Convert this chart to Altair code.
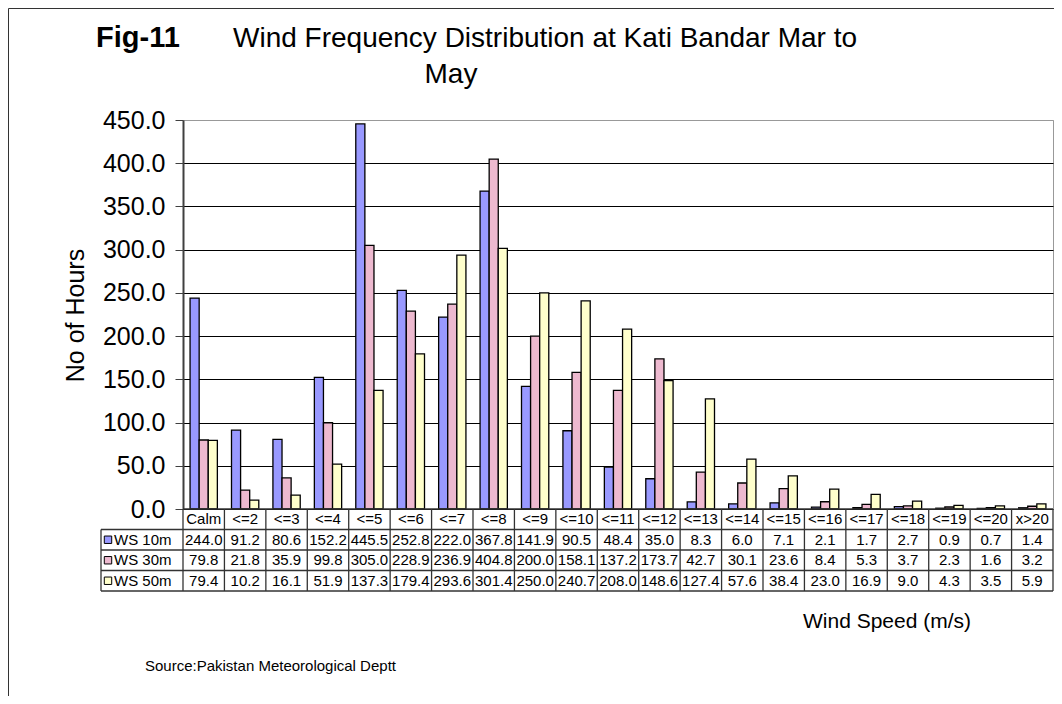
import altair as alt
import pandas as pd

categories = ["Calm", "<=2", "<=3", "<=4", "<=5", "<=6", "<=7", "<=8", "<=9", "<=10",
              "<=11", "<=12", "<=13", "<=14", "<=15", "<=16", "<=17", "<=18", "<=19",
              "<=20", "x>20"]
series_names = ["WS 10m", "WS 30m", "WS 50m"]
ws10 = [244.0, 91.2, 80.6, 152.2, 445.5, 252.8, 222.0, 367.8, 141.9, 90.5, 48.4,
        35.0, 8.3, 6.0, 7.1, 2.1, 1.7, 2.7, 0.9, 0.7, 1.4]
ws30 = [79.8, 21.8, 35.9, 99.8, 305.0, 228.9, 236.9, 404.8, 200.0, 158.1, 137.2,
        173.7, 42.7, 30.1, 23.6, 8.4, 5.3, 3.7, 2.3, 1.6, 3.2]
ws50 = [79.4, 10.2, 16.1, 51.9, 137.3, 179.4, 293.6, 301.4, 250.0, 240.7, 208.0,
        148.6, 127.4, 57.6, 38.4, 23.0, 16.9, 9.0, 4.3, 3.5, 5.9]
series_colors = ["#9999FF", "#EDB9CF", "#FFFFCC"]
y_ticks = [0, 50, 100, 150, 200, 250, 300, 350, 400, 450]

W, H = 870, 389
TH = 82  # table height below plot
FONT = "Liberation Sans"
LINE = "#333333"

rows = []
for si, (name, vals) in enumerate(zip(series_names, [ws10, ws30, ws50])):
    for cat, v in zip(categories, vals):
        rows.append({"cat": cat, "series": name, "value": v,
                     "label": f"{v:.1f}", "ty": si + 1.5})
df = pd.DataFrame(rows)
cat_df = pd.DataFrame({"cat": categories, "ty": 0.5, "ty0": 0.0, "ty1": 4.0})
leg_df = pd.DataFrame({"series": series_names, "ty": [1.5, 2.5, 3.5]})

xscale = alt.Scale(domain=categories, paddingInner=0, paddingOuter=0)
tscale = alt.Scale(domain=[0, 4], range=[H, H + TH], nice=False, zero=False)
cscale = alt.Scale(domain=series_names, range=series_colors)
bx = alt.X("cat:N", scale=xscale, axis=None)
ty = alt.Y("ty:Q", scale=tscale, axis=None)

bars = alt.Chart(df).mark_bar(stroke="black", strokeWidth=1.3).encode(
    x=bx,
    xOffset=alt.XOffset("series:N", scale=alt.Scale(domain=series_names, paddingInner=0, paddingOuter=0.777)),
    y=alt.Y("value:Q", scale=alt.Scale(domain=[0, 450], nice=False),
            axis=alt.Axis(values=y_ticks, format=".1f", grid=True,
                          gridColor={"condition": {"test": "datum.value >= 450", "value": "#999999"}, "value": "#000000"},
                          gridWidth=1, domainColor="#404040", domainWidth=2,
                          tickColor="#404040", tickSize=8, tickWidth=1,
                          labelFont=FONT, labelFontSize=25, labelColor="black",
                          labelPadding=10, labelOverlap=False,
                          title="No of Hours", titleFont=FONT, titleFontSize=25,
                          titleFontWeight="normal", titleColor="black",
                          titleX=-108, titleY=195, titleAngle=270,
                          titleAlign="center", titleBaseline="middle")),
    color=alt.Color("series:N", scale=cscale, legend=None),
)

cells = alt.Chart(df).mark_text(font=FONT, fontSize=15, color="black").encode(
    x=bx, y=ty, text="label:N")
heads = alt.Chart(cat_df).mark_text(font=FONT, fontSize=15, color="black").encode(
    x=bx, y=ty, text="cat:N")

vlines = alt.Chart(cat_df).mark_rule(color=LINE, strokeWidth=1.3).encode(
    x=alt.X("cat:N", scale=xscale, axis=None, bandPosition=0),
    y=alt.Y("ty0:Q", scale=tscale, axis=None), y2="ty1:Q")
vright = alt.Chart(cat_df.tail(1)).mark_rule(color=LINE, strokeWidth=1.3).encode(
    x=alt.X("cat:N", scale=xscale, axis=None, bandPosition=1),
    y=alt.Y("ty0:Q", scale=tscale, axis=None), y2="ty1:Q")
hlines = alt.Chart(pd.DataFrame({"ty": [1.0, 2.0, 3.0, 4.0]})).mark_rule(color=LINE, strokeWidth=1.3).encode(
    x=alt.value(-82), x2=alt.value(W), y=ty)
htop = alt.Chart(pd.DataFrame({"ty": [0.0]})).mark_rule(color=LINE, strokeWidth=1.5).encode(
    x=alt.value(0), x2=alt.value(W), y=ty)
vleft = alt.Chart(pd.DataFrame({"ty0": [1.0], "ty1": [4.0]})).mark_rule(color=LINE, strokeWidth=1.3).encode(
    x=alt.value(-82), y=alt.Y("ty0:Q", scale=tscale, axis=None), y2="ty1:Q")

leg_sq = alt.Chart(leg_df).mark_point(shape="square", filled=True, size=55, opacity=1,
                                      stroke="black", strokeWidth=1).encode(
    x=alt.value(-75), y=ty, color=alt.Color("series:N", scale=cscale, legend=None))
leg_tx = alt.Chart(leg_df).mark_text(font=FONT, fontSize=15, color="black", align="left").encode(
    x=alt.value(-69), y=ty, text="series:N")


def note(text, x, y, size, weight="normal", align="left"):
    return alt.Chart(pd.DataFrame({"t": [text]})).mark_text(
        font=FONT, fontSize=size, fontWeight=weight, align=align,
        baseline="alphabetic", color="black").encode(
        x=alt.value(x), y=alt.value(y), text="t:N")


frame = alt.Chart(pd.DataFrame({"a": [0]})).mark_rect(
    fill="transparent", stroke="#333333", strokeWidth=1).encode(
    x=alt.value(-174.5), y=alt.value(-111.5), x2=alt.value(1300), y2=alt.value(900))

chart = alt.layer(
    frame, bars, vlines, vright, hlines, htop, vleft, cells, heads, leg_sq, leg_tx,
    note("Fig-11", -87, -73, 29, "bold"),
    note("Wind Frequency Distribution at Kati Bandar Mar to", 50, -73, 28),
    note("May", 268, -37, 28, align="center"),
    note("Wind Speed (m/s)", 704, 508, 21, align="center"),
    note("Source:Pakistan Meteorological Deptt", -38, 551, 15),
).resolve_scale(y="independent").properties(
    width=W, height=H,
    padding={"left": 175, "top": 112, "right": 1, "bottom": 187},
    autosize=alt.AutoSizeParams(type="none"),
    background="white",
).configure_view(stroke="#999999", strokeWidth=1)

chart.save("out.html", embed_options={"renderer": "svg", "actions": False})
